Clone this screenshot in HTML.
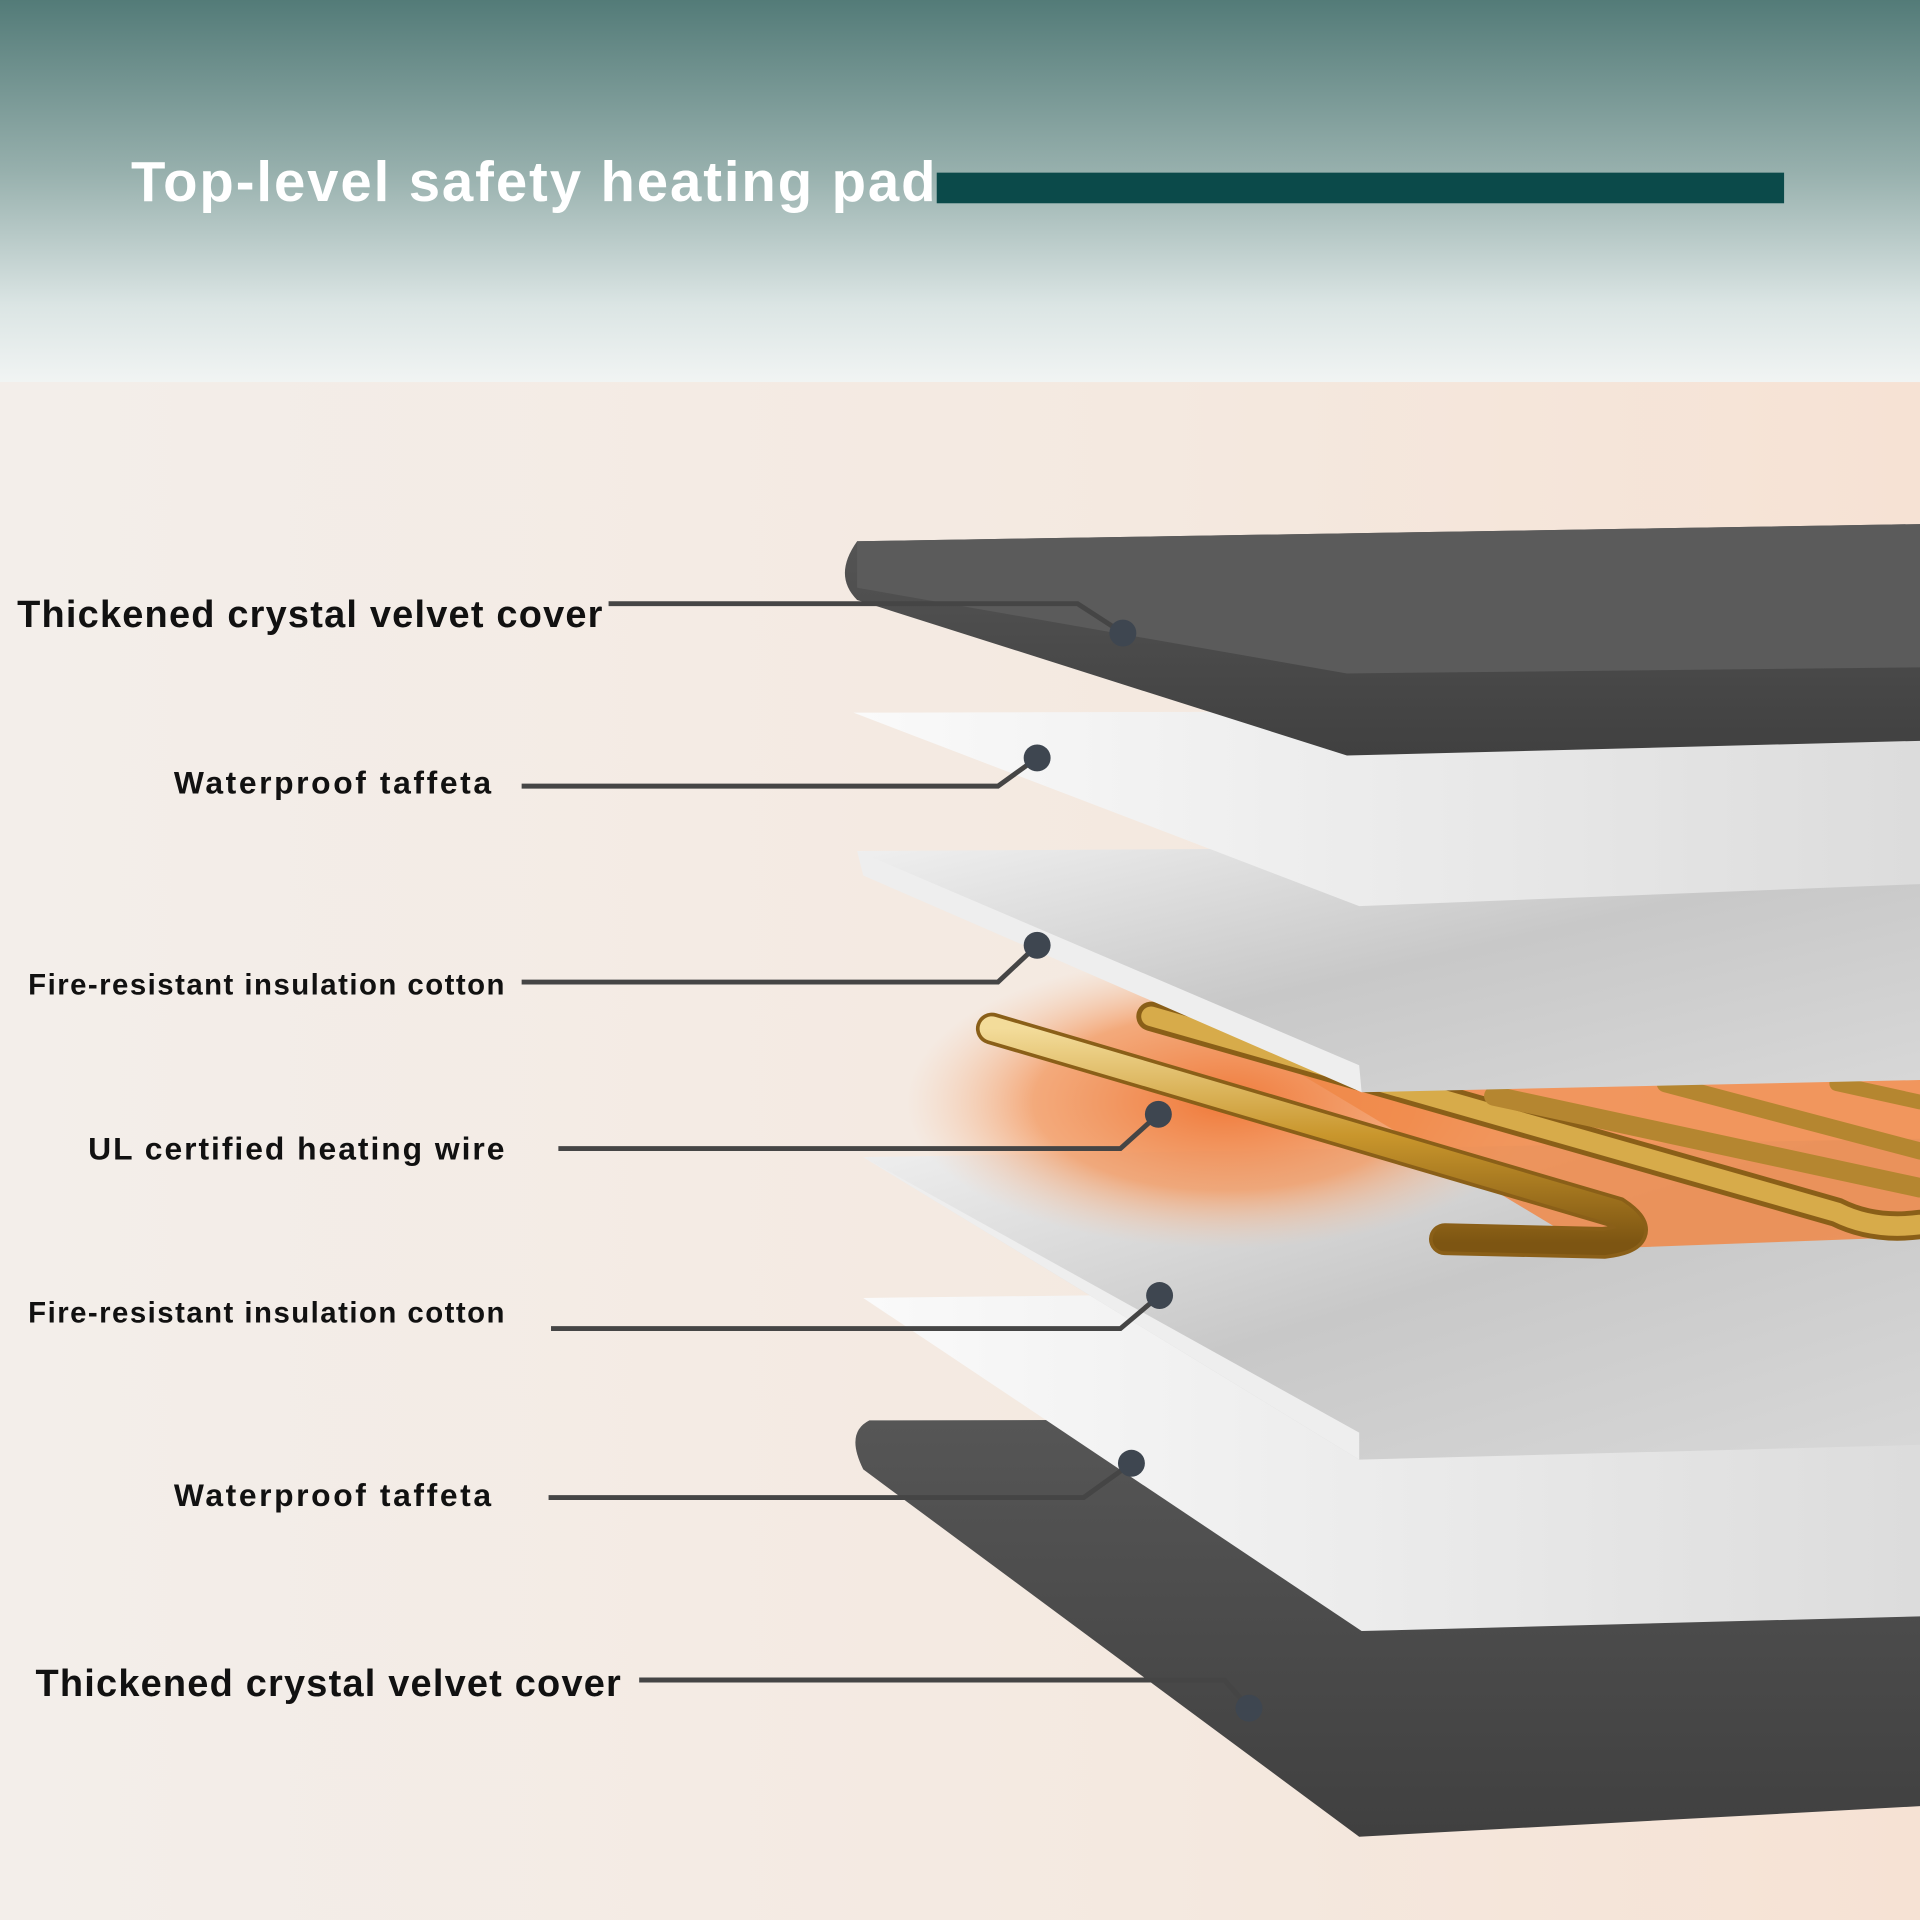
<!DOCTYPE html>
<html><head><meta charset="utf-8"><style>html,body{margin:0;padding:0;width:1920px;height:1920px;overflow:hidden}</style></head>
<body>
<svg width="1920" height="1920" viewBox="0 0 1568 1568" xmlns="http://www.w3.org/2000/svg">
<defs>
<linearGradient id="hdr" x1="0" y1="0" x2="0" y2="1">
<stop offset="0" stop-color="#537b78"/><stop offset="0.45" stop-color="#97b0ad"/><stop offset="0.8" stop-color="#dbe5e4"/><stop offset="1" stop-color="#f1f4f3"/></linearGradient>
<linearGradient id="bg" x1="0" y1="0" x2="1" y2="0">
<stop offset="0" stop-color="#f3eeea"/><stop offset="0.6" stop-color="#f4e9e0"/><stop offset="1" stop-color="#f6e2d4"/></linearGradient>
<linearGradient id="dark" x1="0" y1="0" x2="0" y2="1"><stop offset="0" stop-color="#565656"/><stop offset="1" stop-color="#404040"/></linearGradient>
<linearGradient id="taf" x1="0" y1="0" x2="1" y2="0"><stop offset="0" stop-color="#fafafa"/><stop offset="1" stop-color="#dcdcdc"/></linearGradient>
<linearGradient id="cot" x1="0" y1="0" x2="1" y2="1"><stop offset="0" stop-color="#f0f0f0"/><stop offset="0.5" stop-color="#c8c8c8"/><stop offset="1" stop-color="#d8d8d8"/></linearGradient>
<radialGradient id="glow" cx="0.5" cy="0.5" r="0.5"><stop offset="0" stop-color="#f07a3a"/><stop offset="0.6" stop-color="#f39a62" stop-opacity="0.8"/><stop offset="1" stop-color="#f6c5a5" stop-opacity="0"/></radialGradient>
<linearGradient id="gold" x1="0" y1="0" x2="0" y2="1"><stop offset="0" stop-color="#f3dc9a"/><stop offset="0.5" stop-color="#c9962c"/><stop offset="1" stop-color="#7d5512"/></linearGradient>
</defs>
<rect width="1568" height="1568" fill="url(#bg)"/>
<rect width="1568" height="312" fill="url(#hdr)"/>
<rect x="765" y="141" width="692" height="25" fill="#0b4a4a"/>
<text x="107" y="164" font-family="Liberation Sans, sans-serif" font-weight="bold" font-size="46" fill="#fff" textLength="657">Top-level safety heating pad</text>

<!-- bottom cover -->
<path d="M710,1160 L1568,1158 L1568,1475 L1110,1500 L705,1200 Q690,1170 710,1160Z" fill="url(#dark)"/>
<!-- taffeta 2 -->
<polygon points="705,1060 1568,1050 1568,1320 1112,1332" fill="url(#taf)"/>
<!-- cotton 2 -->
<polygon points="705,945 1568,930 1568,1180 1110,1192" fill="url(#cot)"/>
<polygon points="705,945 1110,1170 1110,1192" fill="#eee"/>
<!-- glow and wires -->
<ellipse cx="1000" cy="900" rx="260" ry="120" fill="url(#glow)"/>
<polygon points="1050,870 1568,870 1568,1010 1300,1020" fill="#f08848" opacity="0.85"/>
<g fill="none" stroke-linecap="round">
<path d="M810,840 L1320,990 Q1350,1010 1310,1015 L1180,1012" stroke="#8a5f18" stroke-width="26"/>
<path d="M810,840 L1320,990 Q1350,1010 1310,1015 L1180,1012" stroke="url(#gold)" stroke-width="20"/>
<path d="M940,830 L1500,990 Q1530,1005 1568,1000" stroke="#8a5f18" stroke-width="24"/>
<path d="M940,830 L1500,990 Q1530,1005 1568,1000" stroke="#d7ab4a" stroke-width="16"/>
<path d="M1220,895 L1568,970" stroke="#b58630" stroke-width="16"/>
<path d="M1360,885 L1568,940" stroke="#b58630" stroke-width="14"/>
<path d="M1500,885 L1568,900" stroke="#b58630" stroke-width="12"/>
</g>
<!-- cotton 1 -->
<polygon points="700,695 1568,690 1568,882 1112,892" fill="url(#cot)"/>
<polygon points="700,695 1110,870 1112,892 705,715" fill="#eee"/>
<!-- taffeta 1 -->
<polygon points="697,582 1568,580 1568,722 1110,740" fill="url(#taf)"/>
<!-- top cover -->
<path d="M700,442 L1568,428 L1568,605 L1100,617 L700,490 Q680,470 700,442Z" fill="url(#dark)"/>
<path d="M700,442 L1568,428 L1568,545 L1100,550 L700,480 Z" fill="#5b5b5b"/>

<g stroke="#454545" stroke-width="4" fill="none">
<polyline points="497,493 880,493 917,517"/>
<polyline points="426,642 815,642 847,619"/>
<polyline points="426,802 815,802 847,772"/>
<polyline points="456,938 915,938 946,910"/>
<polyline points="450,1085 915,1085 947,1058"/>
<polyline points="448,1223 885,1223 924,1195"/>
<polyline points="522,1372 1000,1372 1020,1395"/>
</g>
<g fill="#3e4650">
<circle cx="917" cy="517" r="11"/><circle cx="847" cy="619" r="11"/><circle cx="847" cy="772" r="11"/>
<circle cx="946" cy="910" r="11"/><circle cx="947" cy="1058" r="11"/><circle cx="924" cy="1195" r="11"/><circle cx="1020" cy="1395" r="11"/>
</g>
<g font-family="Liberation Sans, sans-serif" font-weight="bold" fill="#111">
<text x="14" y="512" font-size="31" textLength="478">Thickened crystal velvet cover</text>
<text x="142" y="648" font-size="26" textLength="259">Waterproof taffeta</text>
<text x="23" y="812" font-size="24" textLength="389">Fire-resistant insulation cotton</text>
<text x="72" y="947" font-size="26" textLength="340">UL certified heating wire</text>
<text x="23" y="1080" font-size="24" textLength="389">Fire-resistant insulation cotton</text>
<text x="142" y="1230" font-size="26" textLength="259">Waterproof taffeta</text>
<text x="29" y="1385" font-size="31" textLength="478">Thickened crystal velvet cover</text>
</g>
</svg>
</body></html>
